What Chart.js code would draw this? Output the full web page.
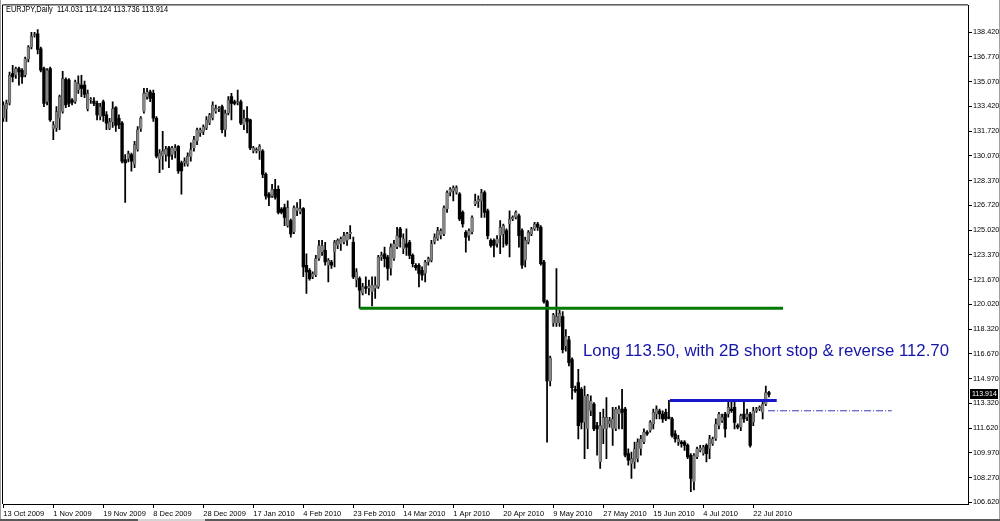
<!DOCTYPE html>
<html><head><meta charset="utf-8">
<script src="https://cdn.jsdelivr.net/npm/chart.js@4.4.1/dist/chart.umd.min.js"></script>
<style>html,body{margin:0;padding:0;background:#fff;overflow:hidden}#wrap{width:1000px;height:521px;position:relative}</style>
</head><body><div id="wrap"><canvas id="c" width="1000" height="521"></canvas></div>
<script>
const symbolTitle = 'EURJPY,Daily';
const opens = [
132.60,133.23,133.61,135.62,135.51,135.96,135.85,135.51,136.60,137.41,
138.20,138.31,137.30,135.96,133.72,135.96,131.89,131.93,132.60,133.05,
135.24,135.18,133.83,133.72,134.50,134.84,134.84,133.23,133.83,133.77,
133.61,132.71,133.72,132.83,131.89,132.33,133.32,132.60,132.27,129.81,
129.87,130.14,129.47,130.48,131.89,133.05,134.06,134.39,134.28,132.60,
129.81,130.03,130.14,130.59,130.14,130.37,130.70,129.58,129.58,129.47,
129.99,130.59,131.04,131.60,131.69,131.93,132.27,132.60,133.05,133.22,
133.39,131.82,132.94,134.06,133.72,133.66,133.72,132.16,132.60,132.49,
130.37,130.37,130.37,130.37,128.80,127.46,127.35,127.79,127.79,126.45,
126.56,125.33,125.67,124.89,126.34,126.27,126.49,122.65,122.31,121.87,
121.98,123.10,123.54,123.66,122.65,122.87,123.54,123.99,124.10,124.21,
124.33,124.77,124.21,121.64,121.75,120.75,121.19,121.10,120.86,121.08,
121.19,123.21,123.43,123.21,122.43,123.10,123.88,125.11,123.77,124.10,
124.21,123.32,122.65,122.65,122.31,122.09,122.87,122.98,124.21,124.44,
124.66,124.77,126.45,127.57,127.68,127.57,127.46,126.23,124.88,124.66,
124.88,126.79,126.95,127.01,127.57,126.34,124.33,124.33,124.10,124.66,
124.77,125.00,125.44,125.78,125.89,126.00,125.00,122.98,124.21,124.77,
125.11,125.44,125.22,122.87,120.19,114.82,118.73,118.73,118.73,119.18,
117.17,117.61,116.27,114.26,114.71,114.26,112.02,111.58,112.80,113.25,
111.80,109.34,111.58,111.58,111.91,111.58,111.58,112.58,112.92,112.92,
109.90,109.22,109.34,109.56,110.23,110.68,111.35,111.46,111.91,112.58,
112.80,112.58,112.69,112.36,112.25,111.24,110.68,110.68,110.68,110.46,
109.79,108.00,109.67,110.12,109.90,110.46,110.23,110.57,110.90,111.80,
112.13,112.58,112.58,112.92,113.03,111.80,111.69,112.58,112.36,112.58,
112.02,112.80,112.92,112.69,113.25,114.031];
const highs = [
133.72,133.83,135.73,136.18,136.07,136.07,135.96,136.74,137.52,138.42,
138.42,138.60,137.41,136.07,135.96,136.07,132.38,133.39,134.17,135.78,
135.33,135.29,133.94,135.18,135.47,135.51,135.11,134.50,134.00,134.00,
133.77,133.61,133.83,133.05,132.60,133.72,133.39,132.83,132.38,130.14,
130.37,130.25,131.04,132.04,132.71,134.62,134.62,134.50,134.50,132.71,
130.48,131.71,130.70,130.70,130.70,130.81,130.75,129.70,129.92,130.26,
130.93,131.37,131.93,131.93,132.16,132.72,132.94,133.72,133.50,133.39,
133.50,133.16,134.06,134.28,133.83,134.51,133.83,133.16,133.39,132.55,
130.70,130.59,130.81,130.48,128.91,127.57,128.13,128.47,128.02,126.56,
126.79,127.01,125.78,126.68,126.90,127.12,126.56,123.43,122.43,122.20,
123.32,124.33,124.33,124.21,123.10,122.98,124.33,124.44,124.55,124.88,
124.88,125.33,124.55,122.43,121.86,121.42,121.86,121.64,121.86,121.86,
123.32,123.54,123.88,123.32,124.10,124.33,125.22,125.22,124.77,125.11,
124.33,123.43,122.76,122.76,122.54,122.98,123.21,124.33,124.77,125.22,
125.11,126.68,127.68,127.91,128.02,128.02,127.57,126.34,125.00,125.11,
126.00,127.46,127.35,127.79,127.68,126.45,124.44,124.44,124.66,125.67,
125.44,125.11,126.34,126.00,126.34,126.12,125.11,124.55,125.00,125.22,
125.56,125.56,125.33,122.98,120.30,116.50,119.40,122.43,119.62,119.51,
118.29,117.84,116.38,114.48,115.60,114.37,114.48,113.92,113.81,113.36,
112.02,112.69,112.92,113.70,112.36,113.03,113.03,113.14,114.26,113.03,
110.23,110.01,110.68,110.90,111.13,111.58,111.46,112.13,112.92,113.14,
112.92,112.80,112.92,113.50,112.36,111.46,111.13,110.79,110.79,110.57,
109.90,109.90,110.34,110.46,110.46,110.57,111.13,111.02,112.25,112.69,
112.58,112.69,113.48,113.48,113.48,111.91,112.58,113.48,112.92,112.69,
113.03,113.03,113.14,113.48,114.48,114.124];
const lows = [
132.38,132.38,133.50,135.06,135.29,134.84,134.95,135.40,136.41,137.30,
138.08,136.96,135.73,133.39,133.50,132.38,131.15,131.71,131.82,132.94,
133.32,133.39,133.50,133.61,134.28,134.06,133.99,133.10,133.61,133.45,
132.49,132.49,132.38,131.82,131.82,131.98,131.71,131.89,129.58,126.90,
129.65,129.02,129.25,130.37,131.71,132.94,133.90,133.72,132.38,129.92,
128.91,129.14,129.69,129.25,129.81,129.92,128.87,127.46,129.36,129.36,
129.70,130.37,130.81,131.37,131.49,131.82,132.16,132.49,132.94,133.05,
131.60,131.37,132.83,132.49,133.50,133.50,132.16,131.82,131.60,130.48,
130.26,130.26,129.81,128.58,127.12,126.68,127.24,127.12,126.12,126.12,
125.33,125.22,124.55,124.78,126.00,126.12,121.87,120.75,121.64,121.75,
121.87,122.98,123.32,122.65,121.53,122.43,122.54,123.77,123.65,124.10,
123.99,124.44,121.75,121.19,119.74,120.64,120.75,120.64,119.90,120.41,
121.08,122.98,122.54,121.64,121.98,122.98,123.77,123.88,123.43,123.32,
123.10,122.54,122.31,121.19,121.64,121.53,122.65,122.87,124.10,124.33,
124.44,124.66,126.23,127.35,127.01,127.46,125.67,125.22,123.54,124.33,
124.77,126.68,126.56,125.89,125.89,124.44,123.88,123.21,123.88,123.43,
123.88,123.99,123.21,125.67,125.78,123.88,122.43,122.54,124.10,124.66,
125.00,125.00,122.65,120.08,110.68,114.48,118.51,118.51,118.51,116.72,
116.83,115.83,113.59,114.04,110.90,111.58,109.56,110.23,112.47,111.46,
109.79,108.89,110.57,109.56,111.69,110.46,111.46,111.58,111.58,109.67,
109.11,108.22,108.89,109.34,109.79,110.57,111.13,111.35,111.58,112.25,
112.25,112.02,112.13,112.25,111.02,110.68,110.46,110.34,110.12,109.56,
107.32,107.44,109.56,110.01,109.79,109.34,109.56,110.46,110.79,111.58,
112.02,111.02,112.36,112.69,111.58,111.58,111.46,112.02,112.13,110.34,
111.80,112.69,112.80,112.25,113.14,113.736];
const closes = [
133.50,133.61,135.51,135.40,135.96,135.73,135.40,136.63,137.41,138.15,
138.26,137.26,135.85,133.61,135.85,132.49,132.16,133.05,134.06,135.29,
133.50,133.61,133.68,135.06,134.95,134.62,134.21,134.28,133.86,133.61,
132.83,133.39,132.78,132.27,132.38,133.23,132.11,132.16,129.69,129.58,
130.21,129.69,130.81,131.82,132.60,134.28,134.39,133.94,132.60,130.03,
130.25,130.37,130.52,130.03,130.59,130.59,129.03,129.03,129.70,130.03,
130.48,131.15,131.82,131.82,132.04,132.49,132.83,133.50,133.27,133.27,
131.82,132.94,133.83,133.61,133.61,133.70,132.27,132.60,132.38,130.59,
130.59,130.48,130.70,128.80,127.35,127.24,127.79,127.24,126.23,126.23,
125.89,126.56,124.77,126.56,126.56,126.49,122.54,122.20,121.75,122.09,
123.10,123.99,123.99,122.87,122.98,122.65,124.21,124.33,124.44,124.66,
124.77,124.88,121.86,122.20,120.97,121.19,121.08,121.24,121.30,121.30,
123.21,123.32,123.10,122.43,123.88,124.10,124.66,124.55,124.44,123.88,
123.32,122.76,122.49,122.09,121.98,122.87,123.10,124.10,124.55,125.00,
125.00,126.56,127.57,127.79,127.91,127.91,125.78,125.44,124.55,125.00,
125.89,127.01,127.12,127.57,126.23,124.66,123.99,123.99,124.44,125.22,
125.33,124.10,125.78,125.89,126.23,124.66,122.65,124.33,124.88,125.11,
125.44,125.22,122.76,120.19,114.82,116.38,119.29,119.18,119.40,116.94,
117.84,116.05,114.37,114.15,111.80,112.02,113.81,113.81,113.48,111.58,
111.58,111.80,112.36,112.36,112.13,112.25,112.92,112.92,112.69,109.79,
109.45,109.56,110.23,110.68,110.90,111.35,111.24,112.02,112.69,112.92,
112.58,112.25,112.25,112.30,111.13,110.90,110.90,110.57,110.46,109.67,
108.22,109.79,110.23,110.28,110.34,109.90,110.90,110.90,111.91,112.58,
112.36,111.58,113.03,112.80,112.02,111.69,112.47,112.25,112.58,110.46,
112.80,112.92,113.03,113.25,114.04,113.914];

const yTickValues = [138.42,136.77,135.07,133.42,131.72,130.07,128.37,126.72,125.02,123.37,121.67,120.02,118.32,116.67,114.97,113.32,111.62,109.97,108.27,106.62];
const xTickBars = [0,16,32,48,64,80,96,112,128,144,160,176,192,208,224,240];
const xTickLabels = ['13 Oct 2009','1 Nov 2009','19 Nov 2009','8 Dec 2009','28 Dec 2009','17 Jan 2010','4 Feb 2010','23 Feb 2010','14 Mar 2010','1 Apr 2010','20 Apr 2010','9 May 2010','27 May 2010','15 Jun 2010','4 Jul 2010','22 Jul 2010'];

const supportLevel = {value: 119.74, from: 114, to: 249.5};
const entryLevel = {value: 113.50, from: 213.3, to: 247.5};
const stopLevel = {value: 112.80, from: 244.7, to: 284.3};
const noteText = 'Long 113.50, with 2B short stop & reverse 112.70';
const notePos = {x: 185.5, y: 116.79};

const FONT = "'Liberation Sans', Arial, sans-serif";
const UP = '#858585', DOWN = '#000000';

const overlay = {
  id: 'overlay',
  afterDraw(chart) {
    const {ctx, chartArea: a, scales: {x, y}} = chart;
    ctx.save();
    ctx.strokeStyle = '#000'; ctx.lineWidth = 1;
    ctx.beginPath();
    ctx.moveTo(a.left - 0.5, a.bottom); ctx.lineTo(a.left - 0.5, a.top - 0.5); ctx.lineTo(a.right, a.top - 0.5);
    ctx.stroke();
    ctx.strokeStyle = '#a0a0a0';
    ctx.beginPath(); ctx.moveTo(0.5, 0); ctx.lineTo(0.5, 521); ctx.moveTo(999.5, 0); ctx.lineTo(999.5, 521); ctx.stroke();
    ctx.fillStyle = '#5a5a5a'; ctx.fillRect(0, 519, 1000, 2);
    ctx.fillStyle = '#d4d4d4'; ctx.fillRect(138, 519, 67, 2);
    ctx.fillStyle = '#1414a8';
    ctx.font = '16.8px ' + FONT;
    ctx.textAlign = 'left'; ctx.textBaseline = 'middle';
    ctx.fillText(noteText, x.getPixelForValue(notePos.x), y.getPixelForValue(notePos.y));
    const n = closes.length - 1;
    const head = symbolTitle + '  ' + [opens[n], highs[n], lows[n], closes[n]].map(v => v.toFixed(3)).join(' ');
    ctx.font = '9px ' + FONT;
    ctx.fillStyle = '#000';
    const w = ctx.measureText(head).width;
    ctx.save(); ctx.translate(6, 10); ctx.scale(162 / w, 1); ctx.fillText(head, 0, 0); ctx.restore();
    const py = y.getPixelForValue(closes[n]);
    ctx.fillStyle = '#000'; ctx.fillRect(a.right + 2, Math.round(py) - 5, 28, 10);
    ctx.fillStyle = '#fff'; ctx.font = '7px ' + FONT; ctx.textBaseline = 'middle';
    ctx.fillText(closes[n].toFixed(3), a.right + 4, Math.round(py) + 0.5);
    ctx.restore();
  }
};

const idx = opens.map((_, i) => i);
const lineDs = (lvl, color, width, dash) => ({
  type: 'line', data: [{x: lvl.from, y: lvl.value}, {x: lvl.to, y: lvl.value}],
  borderColor: color, borderWidth: width, borderDash: dash || [], pointRadius: 0, order: 0
});

new Chart(document.getElementById('c'), {
  type: 'bar',
  data: {
    datasets: [
      lineDs(supportLevel, '#007a00', 3),
      lineDs(entryLevel, '#1818c8', 3),
      lineDs(stopLevel, '#3a3ab8', 1, [7, 2, 1, 2]),
      {
        type: 'bar', order: 1, grouped: false,
        data: idx.map(i => ({x: i, y: [opens[i], closes[i]]})),
        barThickness: 2.7, minBarLength: 1,
        borderWidth: c => closes[c.dataIndex] >= opens[c.dataIndex] ? 0.5 : 0,
        borderColor: '#2a2a2a',
        backgroundColor: c => closes[c.dataIndex] >= opens[c.dataIndex] ? UP : DOWN
      },
      {
        type: 'bar', order: 2, grouped: false,
        data: idx.map(i => ({x: i, y: [lows[i], highs[i]]})),
        barThickness: 1.1, borderWidth: 0, backgroundColor: '#000'
      }
    ]
  },
  options: {
    responsive: false, animation: false, devicePixelRatio: 1, events: [],
    layout: {padding: {left: 3, top: 3, right: 0, bottom: 0}},
    plugins: {legend: {display: false}, tooltip: {enabled: false}},
    scales: {
      x: {
        type: 'linear', min: -0.1, max: 308.7, offset: false,
        afterBuildTicks: ax => { ax.ticks = xTickBars.map(v => ({value: v})); },
        afterFit: ax => { ax.height = 17; },
        ticks: {
          autoSkip: false, maxRotation: 0, minRotation: 0, align: 'start', padding: 1,
          color: '#000', font: {family: FONT, size: 7.5},
          callback: v => { const k = xTickBars.indexOf(v); return k >= 0 ? xTickLabels[k] : ''; }
        },
        grid: {display: true, drawOnChartArea: false, drawTicks: true, tickLength: 4, color: '#000', offset: false},
        border: {display: true, color: '#000', width: 1}
      },
      y: {
        type: 'linear', position: 'right', min: 106.49, max: 140.24, beginAtZero: false,
        afterBuildTicks: ax => { ax.ticks = yTickValues.map(v => ({value: v})); },
        afterFit: ax => { ax.width = 32; },
        ticks: {
          autoSkip: false, padding: 1, color: '#000', font: {family: FONT, size: 7.3},
          callback: v => Number(v).toFixed(3)
        },
        grid: {display: true, drawOnChartArea: false, drawTicks: true, tickLength: 4, color: '#000'},
        border: {display: true, color: '#000', width: 1}
      }
    }
  },
  plugins: [overlay]
});
</script>
</body></html>
